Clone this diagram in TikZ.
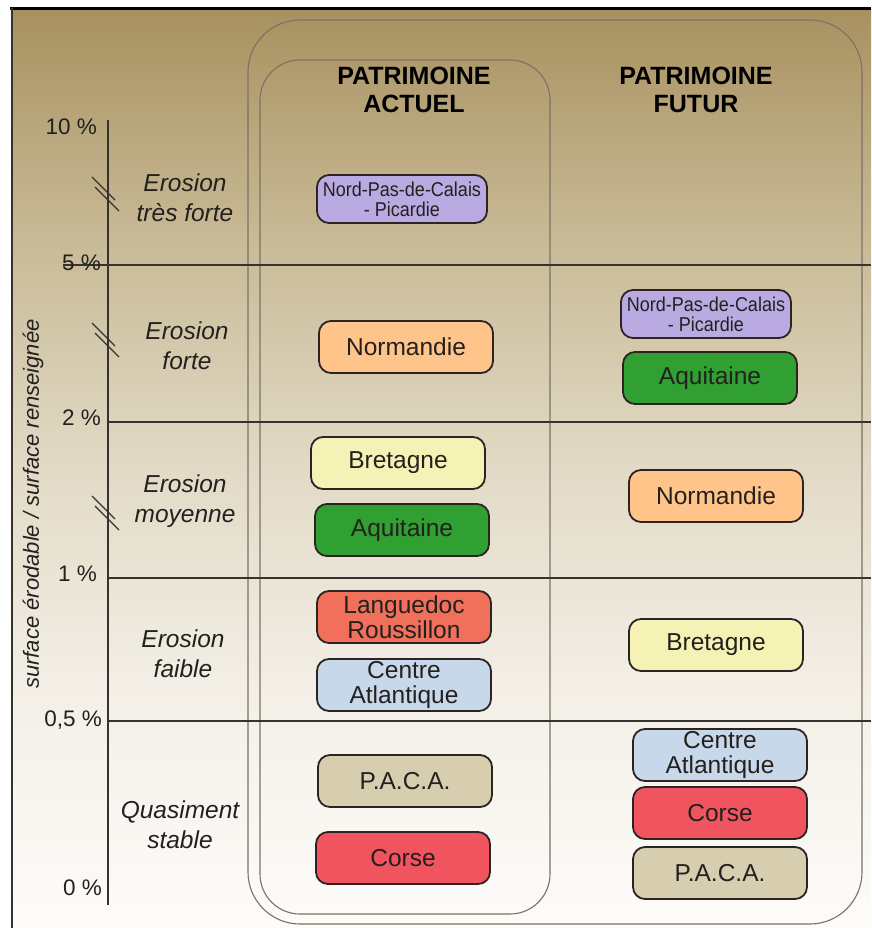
\documentclass[tikz,border=0pt]{standalone}
\usepackage{fontspec}
\setmainfont{Liberation Sans}
\newfontfamily\narrowsf[FakeStretch=0.9]{Liberation Sans}
\usepackage{tikz}

\definecolor{bgtop}{RGB}{168,145,96}
\definecolor{bgupper}{RGB}{200,186,150}
\definecolor{bgmid}{RGB}{226,218,198}
\definecolor{bglow}{RGB}{244,240,232}
\definecolor{bgbottom}{RGB}{253,252,249}
\definecolor{framegray}{RGB}{122,114,100}
\definecolor{gridline}{RGB}{55,50,45}
\definecolor{boxline}{RGB}{45,35,35}
\definecolor{labeltext}{RGB}{35,32,30}
\definecolor{npcpurple}{RGB}{185,170,225}
\definecolor{norange}{RGB}{255,196,138}
\definecolor{breyellow}{RGB}{245,242,182}
\definecolor{aqugreen}{RGB}{48,160,50}
\definecolor{lrsalmon}{RGB}{240,112,92}
\definecolor{cablue}{RGB}{200,216,235}
\definecolor{pacakhaki}{RGB}{215,205,175}
\definecolor{corred}{RGB}{240,85,95}

\pgfdeclareverticalshading{bgfade}{100bp}{color(0bp)=(bgbottom); color(25bp)=(bgbottom);
  color(37.5bp)=(bglow); color(50bp)=(bgmid); color(62.5bp)=(bgupper);
  color(75bp)=(bgtop); color(100bp)=(bgtop)}

\tikzstyle{regionbox} = [draw=boxline, line width=1.8pt, rounded corners=12pt,
    minimum width=174pt, minimum height=52pt, inner sep=0pt, align=center,
    text=labeltext, font=\fontsize{24.5}{25.5}\selectfont]
\tikzstyle{smallbox} = [regionbox, minimum width=170pt, minimum height=48pt,
    font=\narrowsf\fontsize{20}{20}\selectfont]
\tikzstyle{erosionlabel} = [align=center, text=labeltext, font=\itshape\fontsize{24.5}{30}\selectfont]
\tikzstyle{ticklabel} = [anchor=east, inner sep=0pt, text=labeltext, font=\fontsize{22.5}{24}\selectfont]
\tikzstyle{headtitle} = [align=center, text=black, font=\bfseries\fontsize{25}{28}\selectfont]
\tikzstyle{levelline} = [draw=gridline, line width=1.3pt]
\tikzstyle{framebox} = [draw=framegray, line width=1.1pt]

\begin{document}
\begin{tikzpicture}[x=1pt, y=-1pt]
\useasboundingbox (0,0) rectangle (871,928);
\fill[white] (0,0) rectangle (871,928);
\shade[shading=bgfade] (12,9) rectangle (871,928);
\draw[black, line width=2.5pt] (10,8.5) -- (871,8.5);
\draw[gridline, line width=1.2pt] (12,8) -- (12,928);

% columns
\draw[framebox, rounded corners=52pt] (248,20) rectangle (862,924);
\draw[framebox, rounded corners=40pt] (260,60) rectangle (550,914);

% levels
\draw[levelline] (63,265) -- (871,265);
\foreach \y in {422,578,721}
    \draw[levelline] (108,\y) -- (871,\y);
\draw[levelline, line width=1.5pt] (108,120) -- (108,905);
\foreach \y in {194,340,513} {
    \draw[levelline] (92,{\y-17}) -- (115,{\y+6});
    \draw[levelline] (95,{\y-7}) -- (119,{\y+17});
}

\node[ticklabel] (t10) at (97,127) {10 \%};
\node[ticklabel] (t5) at (101,263) {5 \%};
\node[ticklabel] (t2) at (101,418) {2 \%};
\node[ticklabel] (t1) at (97,574) {1 \%};
\node[ticklabel] (t05) at (102,720) {0,5 \%};
\node[ticklabel] (t0) at (102,888) {0 \%};

\node[rotate=90, text=labeltext, font=\itshape\fontsize{22}{24}\selectfont] (ytitle) at (33,504)
    {surface érodable / surface renseignée};

\node[erosionlabel] (trforte) at (185,198) {Erosion\\très forte};
\node[erosionlabel] (forte) at (187,346) {Erosion\\forte};
\node[erosionlabel] (moyenne) at (185,501) {Erosion\\moyenne};
\node[erosionlabel] (faible) at (183,654) {Erosion\\faible};
\node[erosionlabel] (stable) at (180,825) {Quasiment\\stable};

\node[headtitle] (actuel) at (414,90) {PATRIMOINE\\ACTUEL};
\node[headtitle] (futur) at (696,90) {PATRIMOINE\\FUTUR};

% patrimoine actuel
\node[smallbox, fill=npcpurple] (actNPC) at (402,199) {Nord-Pas-de-Calais\\- Picardie};
\node[regionbox, fill=norange] (actNor) at (406,347) {Normandie};
\node[regionbox, fill=breyellow] (actBre) at (398,463) {Bretagne};
\node[regionbox, fill=aqugreen] (actAqu) at (402,530) {Aquitaine};
\node[regionbox, fill=lrsalmon] (actLR) at (404,617) {Languedoc\\Roussillon};
\node[regionbox, fill=cablue] (actCA) at (404,685) {Centre\\Atlantique};
\node[regionbox, fill=pacakhaki] (actPACA) at (405,781) {P.A.C.A.};
\node[regionbox, fill=corred] (actCor) at (403,858) {Corse};

% patrimoine futur
\node[smallbox, fill=npcpurple] (futNPC) at (706,314) {Nord-Pas-de-Calais\\- Picardie};
\node[regionbox, fill=aqugreen] (futAqu) at (710,378) {Aquitaine};
\node[regionbox, fill=norange] (futNor) at (716,496) {Normandie};
\node[regionbox, fill=breyellow] (futBre) at (716,645) {Bretagne};
\node[regionbox, fill=cablue] (futCA) at (720,755) {Centre\\Atlantique};
\node[regionbox, fill=corred] (futCor) at (720,813) {Corse};
\node[regionbox, fill=pacakhaki] (futPACA) at (720,873) {P.A.C.A.};
\end{tikzpicture}
\end{document}
